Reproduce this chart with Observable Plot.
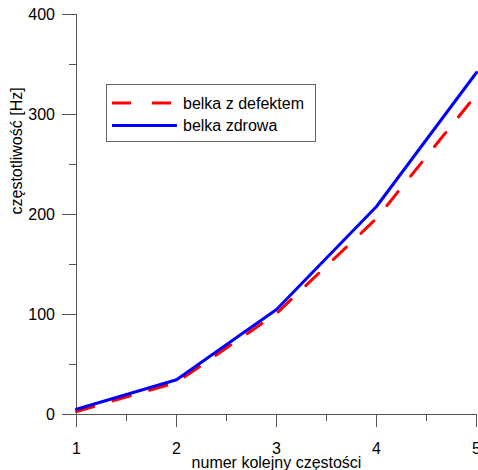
<!DOCTYPE html>
<html>
<head>
<meta charset="utf-8">
<script src="https://cdn.jsdelivr.net/npm/d3@7"></script>
<script src="https://cdn.jsdelivr.net/npm/@observablehq/plot@0.6"></script>
<style>
  html, body { margin: 0; padding: 0; background: #fff; }
  svg { display: block; }
</style>
</head>
<body>
<div id="chart"></div>
<script>
const modes = [1, 2, 3, 4, 5];
const healthy = [5.3, 34.7, 105, 208, 342];
const defect = [3, 32, 101, 196, 320];
const seriesNames = ["belka z defektem", "belka zdrowa"];
const xMajor = [1, 2, 3, 4, 5];
const xMinor = [1.5, 2.5, 3.5, 4.5];
const yMajor = [0, 100, 200, 300, 400];
const yMinor = [50, 150, 250, 350];
const xTitle = "numer kolejny częstości";
const yTitle = "częstotliwość [Hz]";

const rowsDefect = modes.map((m, i) => ({x: m, y: defect[i]}));
const rowsHealthy = modes.map((m, i) => ({x: m, y: healthy[i]}));

const axisColor = "#555";
const font = "'Liberation Sans', Arial, sans-serif";

const svg = Plot.plot({
  width: 478,
  height: 470,
  marginLeft: 76,
  marginRight: 2,
  marginTop: 14,
  marginBottom: 56,
  style: {fontFamily: font, fontSize: "16px", color: "#000", background: "#fff", overflow: "visible"},
  x: {domain: [1, 5]},
  y: {domain: [0, 400]},
  marks: [
    Plot.ruleX([1], {stroke: axisColor, strokeWidth: 1}),
    Plot.ruleY([0], {stroke: axisColor, strokeWidth: 1}),
    Plot.axisX({ticks: xMajor, tickSize: 13, tickPadding: 15, tickFormat: d3.format("d"), stroke: axisColor, label: null, fill: "#000"}),
    Plot.axisX({ticks: xMinor, tickSize: 7, tickFormat: () => "", stroke: axisColor, label: null}),
    Plot.axisY({ticks: yMajor, tickSize: 14, tickPadding: 7.5, tickFormat: d3.format("d"), stroke: axisColor, label: null, fill: "#000"}),
    Plot.axisY({ticks: yMinor, tickSize: 7, tickFormat: () => "", stroke: axisColor, label: null}),
    Plot.line(rowsDefect, {x: "x", y: "y", stroke: "#ff0000", strokeWidth: 3, strokeDasharray: "18,20"}),
    Plot.line(rowsHealthy, {x: "x", y: "y", stroke: "#0000ff", strokeWidth: 3}),
    Plot.text([xTitle], {frameAnchor: "bottom", dy: 53, fill: "#000", fontSize: 16}),
    Plot.text([yTitle], {frameAnchor: "left", dx: -59.5, rotate: -90, fill: "#000", fontSize: 16})
  ]
});

// legend
const g = d3.select(svg).append("g").attr("text-anchor", "start");
g.append("rect").attr("x", 106.5).attr("y", 84.5).attr("width", 209).attr("height", 57)
  .attr("fill", "#fff").attr("stroke", "#666").attr("stroke-width", 1);
const items = [
  {name: seriesNames[0], color: "#ff0000", dash: "19,21", y: 103},
  {name: seriesNames[1], color: "#0000ff", dash: null, y: 125.5}
];
items.forEach(it => {
  const l = g.append("line").attr("x1", 112).attr("x2", 177).attr("y1", it.y).attr("y2", it.y)
    .attr("stroke", it.color).attr("stroke-width", 3);
  if (it.dash) l.attr("stroke-dasharray", it.dash);
  g.append("text").attr("x", 183).attr("y", it.y).attr("dy", "0.35em")
    .attr("text-anchor", "start")
    .attr("font-family", font).attr("font-size", 16).attr("fill", "#000").text(it.name);
});

document.getElementById("chart").appendChild(svg);
</script>
</body>
</html>
